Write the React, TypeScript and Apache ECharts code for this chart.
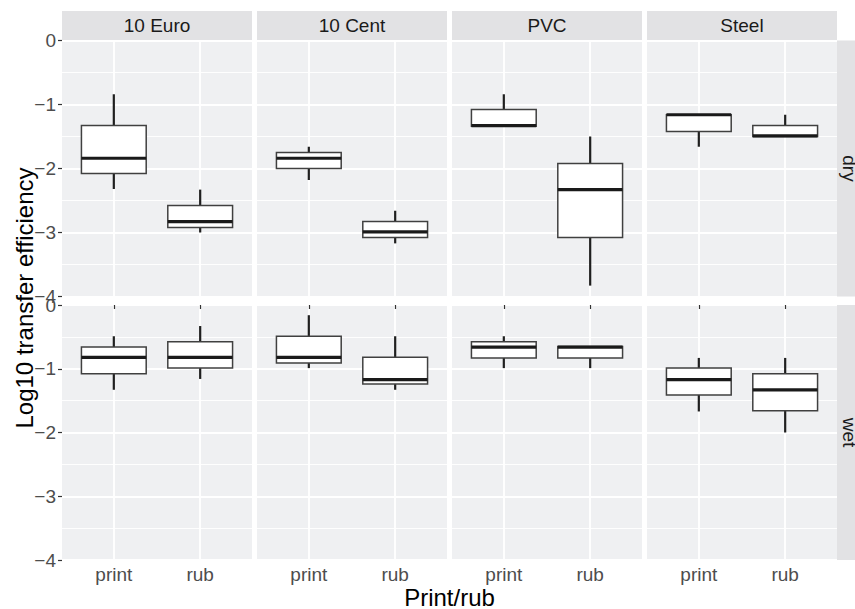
import React, { useEffect, useRef } from "react";
import * as echarts from "echarts";

const facets = ["10 Euro", "10 Cent", "PVC", "Steel"];
const rowLabels = ["dry", "wet"];
const categories = ["print", "rub"];
const yTickValues = [0, -1, -2, -3, -4];

// each box: [lower whisker, Q1, median, Q3, upper whisker]; first print, then rub
const dry10Euro = [[-2.32, -2.08, -1.84, -1.33, -0.84], [-3.0, -2.92, -2.83, -2.58, -2.33]];
const dry10Cent = [[-2.18, -2.0, -1.84, -1.75, -1.66], [-3.17, -3.08, -2.99, -2.83, -2.66]];
const dryPVC = [[-1.34, -1.34, -1.33, -1.08, -0.84], [-3.83, -3.08, -2.33, -1.92, -1.5]];
const drySteel = [[-1.66, -1.42, -1.16, -1.16, -1.16], [-1.5, -1.5, -1.49, -1.33, -1.16]];
const wet10Euro = [[-1.33, -1.08, -0.82, -0.66, -0.49], [-1.16, -0.99, -0.82, -0.575, -0.33]];
const wet10Cent = [[-0.99, -0.91, -0.82, -0.49, -0.16], [-1.33, -1.24, -1.17, -0.82, -0.49]];
const wetPVC = [[-0.99, -0.83, -0.66, -0.575, -0.49], [-0.99, -0.83, -0.66, -0.65, -0.65]];
const wetSteel = [[-1.67, -1.41, -1.17, -0.99, -0.83], [-2.0, -1.66, -1.33, -1.08, -0.83]];

const dryStats = [dry10Euro, dry10Cent, dryPVC, drySteel];
const wetStats = [wet10Euro, wet10Cent, wetPVC, wetSteel];

const FONT = "'Liberation Sans', Arial, Helvetica, sans-serif";
const PANEL_BG = "#EFF0F2";
const STRIP_BG = "#E2E2E4";

export default function App() {
  const ref = useRef<HTMLDivElement>(null);
  useEffect(() => {
    if (!ref.current) return;
    const chart = echarts.init(ref.current, undefined, { renderer: "svg" });
    const panelLefts = [62, 257, 452, 647];
    const panelW = 190;
    const rowTops = [40.5, 305];
    const rowH = [256, 255];
    const stats = [dryStats, wetStats];

    const grids: any[] = [];
    const xAxes: any[] = [];
    const yAxes: any[] = [];
    const series: any[] = [];
    const graphics: any[] = [];

    for (let r = 0; r < 2; r++) {
      for (let c = 0; c < 4; c++) {
        const idx = r * 4 + c;
        grids.push({
          left: panelLefts[c],
          top: rowTops[r],
          width: panelW,
          height: rowH[r],
          show: true,
          backgroundColor: PANEL_BG,
          borderWidth: 0,
        });
        xAxes.push({
          gridIndex: idx,
          type: "value",
          min: 0.4,
          max: 2.6,
          axisLine: { show: false },
          axisTick: {
            show: r === 1,
            customValues: [1, 2],
            length: 4,
            lineStyle: { color: "#333333", width: 1.2 },
          },
          axisLabel: {
            show: r === 1,
            customValues: [1, 2],
            formatter: (v: number) => categories[Math.round(v) - 1] ?? "",
            color: "#4D4D4D",
            fontSize: 19,
            fontFamily: FONT,
            margin: 5,
          },
          splitLine: { show: true, lineStyle: { color: "#FFFFFF", width: 1.8 } },
        });
        yAxes.push({
          gridIndex: idx,
          type: "value",
          min: yTickValues[yTickValues.length - 1],
          max: yTickValues[0],
          interval: 1,
          axisLine: { show: false },
          axisTick: {
            show: c === 0,
            length: 4,
            lineStyle: { color: "#333333", width: 1.2 },
          },
          axisLabel: {
            show: c === 0,
            formatter: (v: number) => (v === 0 ? "0" : "\u2212" + Math.abs(v)),
            color: "#4D4D4D",
            fontSize: 19,
            fontFamily: FONT,
            margin: 6,
          },
          splitLine: { show: true, lineStyle: { color: "#FFFFFF", width: 1.8 } },
          minorTick: { show: false, splitNumber: 2 },
          minorSplitLine: { show: true, lineStyle: { color: "#FFFFFF", width: 0.9 } },
        });
        const boxes = stats[r][c];
        series.push({
          type: "custom",
          xAxisIndex: idx,
          yAxisIndex: idx,
          encode: { x: 0, y: [1, 2, 3, 4, 5] },
          data: categories.map((_, k) => [k + 1, ...boxes[k]]),
          renderItem: (params: any, api: any) => {
            const x = api.value(0);
            const lo = api.value(1);
            const q1 = api.value(2);
            const med = api.value(3);
            const q3 = api.value(4);
            const hi = api.value(5);
            const cx = api.coord([x, med])[0];
            const yLo = api.coord([x, lo])[1];
            const yQ1 = api.coord([x, q1])[1];
            const yMed = api.coord([x, med])[1];
            const yQ3 = api.coord([x, q3])[1];
            const yHi = api.coord([x, hi])[1];
            const left = api.coord([x - 0.375, med])[0];
            const right = api.coord([x + 0.375, med])[0];
            const whisk = { stroke: "#1F1F1F", lineWidth: 2.2 };
            return {
              type: "group",
              children: [
                { type: "line", shape: { x1: cx, y1: yHi, x2: cx, y2: yQ3 }, style: whisk },
                { type: "line", shape: { x1: cx, y1: yQ1, x2: cx, y2: yLo }, style: whisk },
                {
                  type: "rect",
                  shape: { x: left, y: yQ3, width: right - left, height: yQ1 - yQ3 },
                  style: { fill: "#FFFFFF", stroke: "#404040", lineWidth: 1.5 },
                },
                {
                  type: "line",
                  shape: { x1: left, y1: yMed, x2: right, y2: yMed },
                  style: { stroke: "#1A1A1A", lineWidth: 3.2 },
                },
              ],
            };
          },
        });
      }
    }

    // top strips
    for (let c = 0; c < 4; c++) {
      graphics.push({
        type: "rect",
        shape: { x: panelLefts[c], y: 11, width: panelW, height: 29.5 },
        style: { fill: STRIP_BG },
        silent: true,
      });
      graphics.push({
        type: "text",
        x: panelLefts[c] + panelW / 2,
        y: 25.5,
        style: {
          text: facets[c],
          align: "center",
          verticalAlign: "middle",
          fill: "#1A1A1A",
          fontSize: 19,
          fontFamily: FONT,
        },
        silent: true,
      });
    }
    // right strips
    for (let r = 0; r < 2; r++) {
      graphics.push({
        type: "rect",
        shape: { x: 837, y: rowTops[r], width: 30, height: rowH[r] },
        style: { fill: STRIP_BG },
        silent: true,
      });
      graphics.push({
        type: "text",
        x: 849.5,
        y: rowTops[r] + rowH[r] / 2,
        rotation: -Math.PI / 2,
        style: {
          text: rowLabels[r],
          align: "center",
          verticalAlign: "middle",
          fill: "#1A1A1A",
          fontSize: 19,
          fontFamily: FONT,
        },
        silent: true,
      });
    }
    // axis titles
    graphics.push({
      type: "text",
      x: 24,
      y: 298,
      rotation: Math.PI / 2,
      style: {
        text: "Log10 transfer efficiency",
        align: "center",
        verticalAlign: "middle",
        fill: "#000000",
        fontSize: 24,
        fontFamily: FONT,
      },
      silent: true,
    });
    graphics.push({
      type: "text",
      x: 449.5,
      y: 597,
      style: {
        text: "Print/rub",
        align: "center",
        verticalAlign: "middle",
        fill: "#000000",
        fontSize: 24,
        fontFamily: FONT,
      },
      silent: true,
    });

    chart.setOption({
      animation: false,
      backgroundColor: "#FFFFFF",
      grid: grids,
      xAxis: xAxes,
      yAxis: yAxes,
      series,
      graphic: { elements: graphics },
    });
    return () => chart.dispose();
  }, []);
  return (
    <div
      ref={ref}
      style={{ position: "fixed", left: 0, top: 0, width: 855, height: 609 }}
    />
  );
}
